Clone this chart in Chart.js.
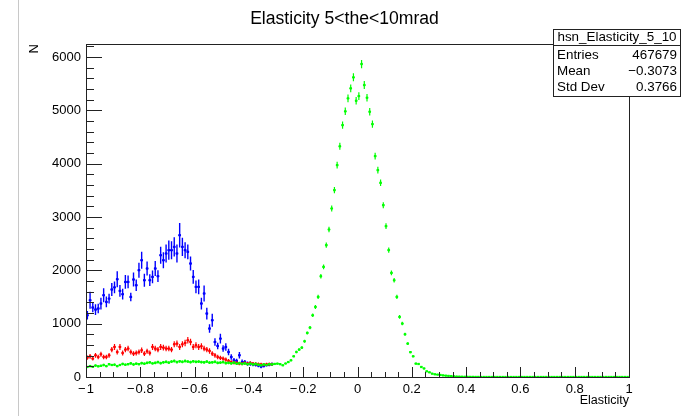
<!DOCTYPE html>
<html><head><meta charset="utf-8">
<script src="https://cdn.jsdelivr.net/npm/chart.js@4.4.1/dist/chart.umd.min.js"></script>
<style>html,body{margin:0;padding:0;background:#fff;}#wrap{width:689px;height:416px;}</style>
</head><body><div id="wrap"><canvas id="c" width="689" height="416"></canvas></div>
<script>
// ---- binning / axes ----
const xRange = [-1, 1];
const binCount = 200;
const xTickValues = [-1, -0.8, -0.6, -0.4, -0.2, 0, 0.2, 0.4, 0.6, 0.8, 1];
const yTickValues = [0, 1000, 2000, 3000, 4000, 5000, 6000];
const yMax = 6240;

// ---- series values (bin contents, first bin at x = -1) ----
const blueCounts = [1157,1439,1302,1264,1283,1377,1533,1407,1470,1640,
  1680,1833,1614,1552,1782,1782,1501,1827,1720,2002,
  2189,1814,2034,1814,1876,2034,1889,2283,2189,2315,
  2377,2377,2439,2315,2658,2439,2377,2346,2127,1876,
  1689,1689,1377,1565,1189,908,1064,657,582,720,
  533,563,469,375,313,300,407,281,281,251,
  250,235,230,215,195,210,225,230,240];
const blueErrors = [80,160,90,100,90,110,130,100,90,120,
  110,150,110,100,130,120,80,130,110,140,
  160,120,130,110,120,140,110,160,150,170,
  180,170,180,170,230,170,150,140,130,130,
  120,140,110,150,110,80,120,70,60,90,
  60,70,60,50,45,40,60,45,40,40,
  40,35,35,30,30,30,30,30,30];

const redCounts = [364,388,345,407,375,426,375,375,407,514,
  563,469,563,450,514,533,469,439,450,469,
  501,439,482,450,563,533,514,563,551,533,
  533,514,614,626,563,614,638,688,657,563,
  595,563,576,533,514,488,439,407,375,357,
  345,326,301,281,269,263,251,251,263,251,
  263,250,245,240,235,230,235,240,238];
const redErrors = [40,45,38,45,40,45,40,40,45,50,
  55,48,55,48,50,52,48,45,48,48,
  50,45,48,46,55,52,50,55,53,52,
  52,50,58,58,55,58,60,62,60,55,
  56,55,56,52,50,50,46,45,42,40,
  40,38,36,35,34,33,32,32,33,32,
  33,32,31,31,30,30,30,31,31];

const greenCounts = [188,205,190,215,200,210,225,205,240,225,
  230,205,225,245,230,240,255,235,250,240,
  260,250,265,275,255,265,280,260,275,285,
  270,290,300,280,295,285,300,290,280,295,
  285,290,280,275,290,270,275,285,265,270,
  280,260,265,255,270,250,260,245,255,240,
  250,235,245,230,220,235,225,240,235,
  245,250,240,219,253,280,313,388,469,514,
  551,670,826,927,1157,1313,1501,1889,2064,2471,
  2765,3159,3503,3972,4325,4722,4980,5223,5411,5617,
  5178,5266,5867,5473,5235,4972,4741,4141,3878,3640,
  3221,2827,2380,1951,1814,1501,1126,1002,801,627,
  466,388,251,244,188,160,107,88,63,51,
  45,38,30,25,20,16,12,9,7,5,
  4,3,2,2,1,1,
  0,0,0,0,0,0,0,0,0,0,
  0,0,0,0,0,0,0,0,0,0,
  0,0,0,0,0,0,0,0,0,0,
  0,0,0,0,0,0,0,0,0,0,
  0,0,0,0,0,0,0,0,0,0,
  0,0,0,0,0];
const greenErrors = [18,20,18,21,19,20,22,20,23,21,
  22,20,21,23,22,22,24,22,23,22,
  24,23,24,25,23,24,25,24,25,26,
  24,26,26,25,26,25,26,25,25,26,
  25,26,25,25,26,24,25,26,24,24,
  25,24,24,24,25,23,24,23,24,23,
  23,22,23,22,21,22,21,22,22,
  16,16,16,15,16,17,18,20,22,23,
  24,26,29,31,34,36,39,44,46,50,
  53,56,59,63,66,69,71,72,74,75,
  72,73,77,74,72,71,69,64,62,60,
  57,53,49,44,43,39,34,32,28,25,
  22,20,16,16,14,13,10,9,8,7,
  7,6,5,5,4,4,3,3,2,2,
  2,2,1,1,1,1];

const statsTitle = 'hsn_Elasticity_5_10';
const statsLabels = ['Entries', 'Mean', 'Std Dev'];
const statsValues = ['467679', '\u22120.3073', '0.3766'];

// ---- helpers ----
const binWidth = (xRange[1] - xRange[0]) / binCount;
function toPoints(counts) {
  return counts.map((v, i) => ({ x: xRange[0] + (i + 0.5) * binWidth, y: v }));
}
function fmt(v) {
  const r = Math.round(v * 10) / 10;
  return (r < 0 ? '\u2212\u200A' : '') + String(Math.abs(r));
}
Chart.defaults.font.family = "'Liberation Sans', Arial, Helvetica, sans-serif";
Chart.defaults.color = '#000';

const errorBarPlugin = {
  id: 'errorBars',
  beforeDatasetDraw(chart, args) {
    const ds = chart.data.datasets[args.index];
    if (!ds.errs) return;
    const xs = chart.scales.x, ys = chart.scales.y, ctx = chart.ctx, a = chart.chartArea;
    ctx.save();
    ctx.beginPath(); ctx.rect(a.left, a.top - 2, a.right - a.left, a.bottom - a.top + 2); ctx.clip();
    ctx.strokeStyle = ds.barColor; ctx.lineWidth = ds.barWidth;
    ctx.beginPath();
    ds.data.forEach((p, i) => {
      const e = ds.errs[i] || 0;
      const px = xs.getPixelForValue(p.x);
      const x0 = xs.getPixelForValue(p.x - binWidth / 2), x1 = xs.getPixelForValue(p.x + binWidth / 2);
      const py = ys.getPixelForValue(p.y);
      ctx.moveTo(x0, py); ctx.lineTo(x1, py);
      if (e > 0) {
        ctx.moveTo(px, ys.getPixelForValue(p.y - e));
        ctx.lineTo(px, ys.getPixelForValue(p.y + e));
      }
    });
    ctx.stroke();
    ctx.restore();
  }
};

const framePlugin = {
  id: 'rootFrame',
  afterDatasetsDraw(chart) {
    const ctx = chart.ctx, a = chart.chartArea, xs = chart.scales.x, ys = chart.scales.y;
    ctx.save();
    ctx.strokeStyle = '#222'; ctx.lineWidth = 1;
    ctx.strokeRect(Math.round(a.left) + 0.5, Math.round(a.top) + 0.5, Math.round(a.right - a.left), Math.round(a.bottom - a.top));
    ctx.beginPath();
    // x ticks: major every 0.2, minor every 0.05
    for (let k = 0; k <= 40; k++) {
      const v = xRange[0] + k * 0.05;
      const px = Math.round(xs.getPixelForValue(v)) + 0.5;
      const len = (k % 4 === 0) ? 10 : 5;
      ctx.moveTo(px, a.bottom); ctx.lineTo(px, a.bottom - len);
    }
    // y ticks: major every 1000, minor every 200
    for (let k = 0; k * 200 <= yMax; k++) {
      const v = k * 200;
      const py = Math.round(ys.getPixelForValue(v)) + 0.5;
      const len = (k % 5 === 0) ? 16 : 8;
      ctx.moveTo(a.left, py); ctx.lineTo(a.left + len, py);
    }
    ctx.stroke();
    ctx.restore();
  },
  afterDraw(chart) {
    const ctx = chart.ctx;
    ctx.save();
    // window edge line
    ctx.strokeStyle = '#c8c8c8'; ctx.lineWidth = 1;
    ctx.beginPath(); ctx.moveTo(18.5, 0); ctx.lineTo(18.5, 416); ctx.stroke();
    // stats box
    const bx = 553, by = 29, bw = 127, bh = 67;
    ctx.fillStyle = '#fff'; ctx.fillRect(bx, by, bw, bh);
    ctx.strokeStyle = '#222';
    ctx.strokeRect(bx + 0.5, by + 0.5, bw, bh);
    ctx.beginPath(); ctx.moveTo(bx, by + 16.5); ctx.lineTo(bx + bw, by + 16.5); ctx.stroke();
    ctx.fillStyle = '#000';
    ctx.font = "13.4px 'Liberation Sans', Arial, sans-serif";
    ctx.textBaseline = 'middle';
    ctx.textAlign = 'center';
    ctx.fillText(statsTitle, bx + bw / 2 + 0.5, by + 8.5);
    statsLabels.forEach((lab, i) => {
      const y = by + 26 + i * 16.4;
      ctx.textAlign = 'left'; ctx.fillText(lab, bx + 4, y);
      ctx.textAlign = 'right'; ctx.fillText(statsValues[i], bx + bw - 3, y);
    });
    ctx.restore();
  }
};

function ds(label, counts, errs, color, w) {
  return {
    label, data: toPoints(counts), errs, barColor: color, barWidth: w,
    backgroundColor: color, borderColor: color, borderWidth: 0,
    pointStyle: 'rect', pointRadius: 1.6, showLine: false
  };
}

new Chart(document.getElementById('c'), {
  type: 'scatter',
  data: {
    datasets: [
      ds('green', greenCounts, greenErrors, '#00ff00', 1.2),
      ds('red', redCounts, redErrors, '#ff0000', 1.2),
      ds('blue', blueCounts, blueErrors, '#0000ff', 1.4)
    ]
  },
  options: {
    responsive: false, animation: false, events: [],
    layout: { padding: { left: 0, right: 0, top: 0, bottom: 0 } },
    plugins: {
      legend: { display: false }, tooltip: { enabled: false },
      title: {
        display: true, text: 'Elasticity 5<the<10mrad', color: '#000',
        font: { size: 17.6, weight: 'normal', lineHeight: 1.2 },
        padding: { top: 8.5, bottom: 14.5 }
      }
    },
    scales: {
      x: {
        type: 'linear', min: xRange[0], max: xRange[1],
        afterBuildTicks: s => { s.ticks = xTickValues.map(v => ({ value: v })); },
        afterFit: s => { s.height = 39; },
        grid: { display: false, drawTicks: false }, border: { display: false },
        ticks: { padding: 5, autoSkip: false, maxRotation: 0, minRotation: 0, color: '#000',
          font: { size: 13 }, callback: v => fmt(v) },
        title: { display: true, text: 'Elasticity', align: 'end', color: '#000',
          font: { size: 12.5 }, padding: { top: 0, bottom: 8 } }
      },
      y: {
        type: 'linear', min: 0, max: yMax,
        afterBuildTicks: s => { s.ticks = yTickValues.map(v => ({ value: v })); },
        afterFit: s => { s.width = 86; },
        grid: { display: false, drawTicks: false }, border: { display: false },
        ticks: { padding: 5, color: '#000', font: { size: 13 }, callback: v => String(v) },
        title: { display: true, text: 'N', align: 'end', color: '#000',
          font: { size: 13 }, padding: { top: 27, bottom: 0 } }
      },
      yRightMargin: {
        type: 'linear', position: 'right', display: true,
        afterFit: s => { s.width = 60; },
        grid: { display: false, drawTicks: false }, border: { display: false },
        ticks: { display: false }, title: { display: false }
      }
    }
  },
  plugins: [errorBarPlugin, framePlugin]
});
</script>
</body></html>
